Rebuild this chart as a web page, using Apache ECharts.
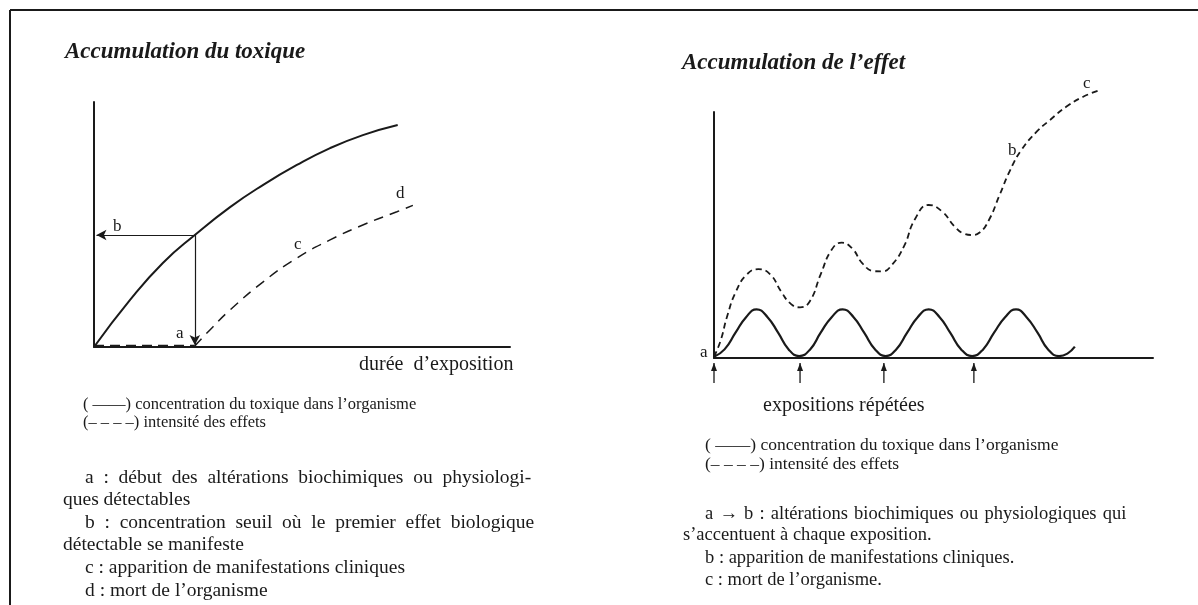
<!DOCTYPE html>
<html>
<head>
<meta charset="utf-8">
<script src="https://cdn.jsdelivr.net/npm/echarts@6/dist/echarts.min.js"></script>
<style>
  html, body { margin: 0; padding: 0; background: #fff; }
  #chart { width: 1198px; height: 605px; }
</style>
</head>
<body>
<div id="chart"></div>
<script>
// --- left panel: accumulation du toxique (arbitrary units 0..100)
var toxConcentration = [
  [0, 0], [8.8, 19.2], [16.8, 34.3], [24.6, 45.7], [33.2, 57.1], [41.2, 66.1],
  [49.5, 74.3], [57.6, 81.2], [65.6, 86.5], [74.1, 90.6]
]
var toxEffectFlat = [[0, 0.6], [24.6, 0.6]]
var toxEffect = [
  [24.6, 0.4], [29, 8.2], [33.2, 15.1], [41.2, 26.5], [49.5, 36.3], [57.6, 43.7],
  [65.6, 49.8], [73.9, 55.2], [77.8, 57.8]
]
var threshold = [24.6, 45.7]

// --- right panel: accumulation de l'effet
var repConcentration = [
  [0, 0.5], [2.4, 3.5], [4.9, 10.3], [7.3, 16.6], [9.7, 19.8],
  [12.2, 16.6], [14.6, 10.3], [17, 3.5], [19.4, 0.8],
  [21.9, 3.5], [24.3, 10.3], [26.8, 16.6], [29.3, 19.8],
  [31.8, 16.6], [34.2, 10.3], [36.7, 3.5], [39.1, 0.8],
  [41.5, 3.5], [44, 10.3], [46.4, 16.6], [48.9, 19.8],
  [51.4, 16.6], [53.8, 10.3], [56.3, 3.5], [58.8, 0.8],
  [61.3, 3.5], [63.8, 10.3], [66.3, 16.6], [68.8, 19.8],
  [71.2, 16.6], [73.7, 10.3], [76.1, 3.5], [78.6, 0.8],
  [80.5, 1.8], [82.2, 4.6]
]
var repEffect = [
  [0, 0.5], [1.5, 7], [3, 17], [5, 27], [7.5, 34], [10.1, 36.1],
  [12.8, 34], [15.3, 27], [17.5, 22], [19.6, 20.6],
  [21.8, 23], [24.3, 34], [26.8, 44], [29.1, 46.9],
  [31.5, 44.5], [33.8, 38.5], [36.5, 35.3], [38.3, 35.2],
  [40.6, 38], [43.3, 45.5], [45.8, 56.5], [48.9, 62.2],
  [52, 59.5], [54.8, 53.5], [57, 50.5], [58.7, 50],
  [60.5, 51], [62.6, 56], [65, 66], [67.5, 76.5], [70, 84.5],
  [73.5, 92], [76.5, 96.7], [80.3, 102.2], [84.1, 106.2], [87.9, 108.9]
]
var exposures = [0, 19.6, 38.7, 59.2]
var exposureArrow = [-10.2, -2]

var legendLines = [
  '( \u2014\u2014) concentration du toxique dans l\u2019organisme',
  '(\u2013 \u2013 \u2013 \u2013) intensit\u00e9 des effets'
]
var leftNotes = [
  'a : d\u00e9but des alt\u00e9rations biochimiques ou physiologi-',
  'ques d\u00e9tectables',
  'b : concentration seuil o\u00f9 le premier effet biologique',
  'd\u00e9tectable se manifeste',
  'c : apparition de manifestations cliniques',
  'd : mort de l\u2019organisme'
]
var rightNotes = [
  'a \u2192 b : alt\u00e9rations biochimiques ou physiologiques qui',
  's\u2019accentuent \u00e0 chaque exposition.',
  'b : apparition de manifestations cliniques.',
  'c : mort de l\u2019organisme.'
]

var chart = echarts.init(document.getElementById('chart'))
var SERIF = '"Liberation Serif", "DejaVu Serif", serif'
var INK = '#1a1a1a'

function axis(gridIndex, max) {
  return {
    type: 'value', gridIndex: gridIndex, min: 0, max: max,
    axisLine: { show: true, onZero: false, lineStyle: { color: INK, width: 2 } },
    axisTick: { show: false },
    axisLabel: { show: false },
    splitLine: { show: false }
  }
}

function txt(x, y, s, font) {
  return {
    type: 'text',
    style: { x: x, y: y, text: s, fill: INK, font: font, verticalAlign: 'middle' }
  }
}
function serif(size) { return size + 'px ' + SERIF }
// justified book lines: widen word gaps
function justify(s, gap) { return s.split(' ').join(gap || '\u2002') }

var arrowStyle = { color: INK, width: 1.2, type: 'solid' }

var graphics = [
  // page frame
  { type: 'line', shape: { x1: 10, y1: 10, x2: 1198, y2: 10 }, style: { stroke: INK, lineWidth: 2 } },
  { type: 'line', shape: { x1: 10, y1: 10, x2: 10, y2: 605 }, style: { stroke: INK, lineWidth: 2 } },
  txt(65, 52, 'Accumulation du toxique', 'italic bold 23px ' + SERIF),
  txt(682, 63, 'Accumulation de l\u2019effet', 'italic bold 23px ' + SERIF),
  txt(359, 365, 'dur\u00e9e  d\u2019exposition', serif(20)),
  txt(763, 406, 'expositions r\u00e9p\u00e9t\u00e9es', serif(20)),
  // curve letters
  txt(113, 227, 'b', serif(17)), txt(176, 334, 'a', serif(17)),
  txt(294, 245, 'c', serif(17)), txt(396, 194, 'd', serif(17)),
  txt(700, 353, 'a', serif(17)), txt(1008, 151, 'b', serif(17)), txt(1083, 84, 'c', serif(17)),
  // legends
  txt(83, 405, legendLines[0], serif(16.5)), txt(83, 423, legendLines[1], serif(16.5)),
  txt(705, 445, legendLines[0], serif(17.5)), txt(705, 464, legendLines[1], serif(17.5))
]
var leftY = [478, 500, 523, 545, 568, 591]
leftNotes.forEach(function (s, i) {
  var cont = i === 1 || i === 3
  graphics.push(txt(cont ? 63 : 85, leftY[i], i === 0 || i === 2 ? justify(s) : s, serif(19.5)))
})
var rightY = [514, 535, 558, 580]
rightNotes.forEach(function (s, i) {
  graphics.push(txt(i === 1 ? 683 : 705, rightY[i], i === 0 ? justify(s, '\u2004') : s, serif(18.5)))
})

chart.setOption({
  animation: false,
  backgroundColor: '#fff',
  grid: [
    { left: 94, top: 102, width: 416, height: 245 },
    { left: 714, top: 112, width: 439, height: 246 }
  ],
  xAxis: [axis(0, 101.5), axis(1, 100)],
  yAxis: [axis(0, 100), axis(1, 100)],
  graphic: graphics,
  series: [
    {
      name: 'concentration', type: 'line', xAxisIndex: 0, yAxisIndex: 0,
      data: toxConcentration, smooth: true, showSymbol: false,
      lineStyle: { color: INK, width: 2 },
      markLine: {
        silent: true, symbol: ['none', 'arrow'], symbolSize: [8, 10],
        label: { show: false }, lineStyle: arrowStyle,
        data: [
          [{ coord: threshold }, { coord: [0.6, threshold[1]] }],
          [{ coord: threshold }, { coord: [threshold[0], 0.8] }]
        ]
      }
    },
    {
      name: 'effets (seuil)', type: 'line', xAxisIndex: 0, yAxisIndex: 0,
      data: toxEffectFlat, showSymbol: false,
      lineStyle: { color: INK, width: 1.5, type: [10, 6] }
    },
    {
      name: 'effets', type: 'line', xAxisIndex: 0, yAxisIndex: 0,
      data: toxEffect, smooth: true, showSymbol: false,
      lineStyle: { color: INK, width: 1.5, type: [10, 7] }
    },
    {
      name: 'concentration r\u00e9p\u00e9t\u00e9e', type: 'line', xAxisIndex: 1, yAxisIndex: 1,
      data: repConcentration, smooth: true, showSymbol: false, clip: false,
      lineStyle: { color: INK, width: 2.2 }
    },
    {
      name: 'effet cumul\u00e9', type: 'line', xAxisIndex: 1, yAxisIndex: 1,
      data: repEffect, smooth: true, showSymbol: false, clip: false,
      lineStyle: { color: INK, width: 1.8, type: [6, 4] }
    },
    {
      // arrows marking each exposure, below the time axis
      name: 'expositions', type: 'custom', xAxisIndex: 1, yAxisIndex: 1, clip: false,
      data: exposures.map(function (x) { return [x, exposureArrow[0], exposureArrow[1]] }),
      encode: { x: 0, y: [1, 2] },
      renderItem: function (params, api) {
        var p0 = api.coord([api.value(0), api.value(1)])
        var p1 = api.coord([api.value(0), api.value(2)])
        return {
          type: 'group',
          children: [
            { type: 'line', shape: { x1: p0[0], y1: p0[1], x2: p1[0], y2: p1[1] }, style: { stroke: INK, lineWidth: 1.3 } },
            { type: 'polygon', shape: { points: [[p1[0], p1[1]], [p1[0] - 3, p1[1] + 8], [p1[0] + 3, p1[1] + 8]] }, style: { fill: INK } }
          ]
        }
      }
    }
  ]
})
</script>
</body>
</html>
